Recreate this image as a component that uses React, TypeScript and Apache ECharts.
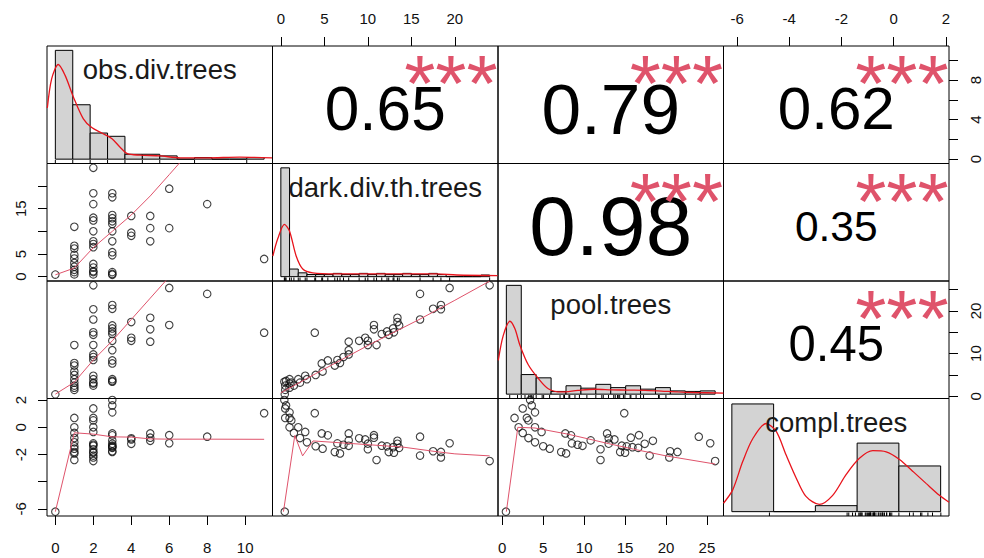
import { useEffect, useRef } from 'react';
import * as echarts from 'echarts';

// ---------- data ----------
const varNames = ['obs.div.trees', 'dark.div.th.trees', 'pool.trees', 'compl.trees'];

const obsDiv = [0, 1, 1, 1, 1, 1, 1, 1, 1, 1, 1, 2, 2, 2, 2, 2, 2, 2, 2, 2, 2, 2, 2, 2, 2, 3, 3, 3, 3, 3, 3, 3, 3, 3, 3, 3, 3, 3, 4, 4, 4, 5, 5, 5, 6, 6, 8, 11];
const darkDiv = [0.45, 0.5, 1, 1.5, 2.2, 3, 4, 4.8, 6.2, 6.8, 11, 0.5, 1, 1.2, 2, 2.8, 6.5, 7.2, 7.8, 10, 12.4, 13, 16, 18.4, 24, 0.4, 0.6, 1, 4.7, 5.4, 7.8, 10, 11.6, 12.2, 12.9, 13.6, 17.5, 18.4, 9, 9.7, 13.4, 7.8, 10.7, 13.4, 10.7, 19.4, 16, 3.9];
const poolTrees = [0.45, 1.5, 2, 2.5, 3.2, 4, 5, 5.8, 7.2, 7.8, 12, 2.5, 3, 3.2, 4, 4.8, 8.5, 9.2, 9.8, 12, 14.4, 15, 18, 20.4, 26, 3.4, 3.6, 4, 7.7, 8.4, 10.8, 13, 14.6, 15.2, 15.9, 16.6, 20.5, 21.4, 13, 13.7, 17.4, 12.8, 15.7, 18.4, 16.7, 25.4, 24, 14.9];
const complTrees = [-6.2, 0.69, 0, -0.41, -0.79, -1.1, -1.39, -1.57, -1.82, -1.92, -2.4, 1.39, 0.69, 0.51, 0, -0.34, -1.18, -1.28, -1.36, -1.61, -1.82, -1.87, -2.08, -2.22, -2.48, 2.01, 1.61, 1.1, -0.45, -0.59, -0.96, -1.2, -1.35, -1.4, -1.46, -1.51, -1.76, -1.81, -0.81, -0.89, -1.21, -0.45, -0.76, -0.99, -0.58, -1.17, -0.69, 1.04];

// axis ranges of each variable (pairs scale)
const obsRange = [-0.44, 11.44];
const darkRange = [-0.96, 24.96];
const poolRange = [-0.52, 27.02];
const complRange = [-6.52, 2.12];

// tick values and shown labels
const obsTicks = [0, 2, 4, 6, 8, 10];
const darkTicks = [0, 5, 10, 15, 20];
const poolTicks = [0, 5, 10, 15, 20, 25];
const complTicks = [-6, -4, -2, 0, 2];
const obsRightLabels = [0, 4, 8];
const darkLeftLabels = [0, 5, 15];
const poolRightLabels = [0, 10, 20];
const complLeftLabels = [-6, -2, 0, 2];

// correlations (upper panels)
const corrPairs = [[0, 1], [0, 2], [0, 3], [1, 2], [1, 3], [2, 3]];
const corrValues = [0.65, 0.79, 0.62, 0.98, 0.35, 0.45];
const corrText = ['0.65', '0.79', '0.62', '0.98', '0.35', '0.45'];
const corrStars = ['***', '***', '***', '***', '***', '***'];

// histograms on the diagonal (own scales); heights relative to tallest bar
const obsHistRange = [-0.48, 12.48];
const obsHistBreaks = [0, 1, 2, 3, 4, 5, 6, 7, 8, 9, 10, 11, 12];
const obsHistHeights = [1.0, 0.5, 0.24, 0.21, 0.045, 0.045, 0.03, 0, 0.015, 0, 0, 0.015];
const darkHistRange = [-0.96, 24.96];
const darkHistBreaks = [0, 1, 2, 3, 4, 5, 6, 7, 8, 9, 10, 11, 12, 13, 14, 15, 16, 17, 18, 19, 20, 21, 22, 23, 24];
const darkHistHeights = [1.0, 0.07, 0.035, 0.02, 0.02, 0.02, 0.03, 0.02, 0.02, 0.03, 0.02, 0.03, 0.02, 0.02, 0.03, 0.02, 0.02, 0.03, 0.02, 0, 0, 0, 0, 0.015];
const poolHistRange = [-1.12, 29.12];
const poolHistBreaks = [0, 2, 4, 6, 8, 10, 12, 14, 16, 18, 20, 22, 24, 26, 28];
const poolHistHeights = [1.0, 0.18, 0.15, 0.025, 0.077, 0.055, 0.09, 0.06, 0.077, 0.046, 0.06, 0.03, 0.025, 0.03];
const complHistRange = [-8.4, 2.4];
const complHistBreaks = [-8, -6, -4, -2, 0, 2];
const complHistHeights = [0.99, 0, 0.055, 0.63, 0.42];

// density curves (own scales)
const obsDensX = [-0.46, -0.21, 0.17, 0.56, 1.04, 1.61, 2.09, 2.67, 3.24, 3.72, 4.14, 4.87, 6.02, 7.17, 8.7, 10.6, 12.45];
const obsDensY = [0.47, 0.74, 0.87, 0.77, 0.57, 0.37, 0.29, 0.24, 0.19, 0.11, 0.05, 0.037, 0.03, 0.012, 0.012, 0.018, 0.012];
const darkDensX = [-0.92, -0.35, 0.41, 0.99, 1.76, 2.52, 3.67, 6.35, 10.2, 14.0, 17.9, 20.2, 24.9];
const darkDensY = [0.19, 0.35, 0.48, 0.42, 0.19, 0.07, 0.034, 0.025, 0.025, 0.025, 0.025, 0.015, 0.01];
const poolDensX = [-1.08, -0.41, 0.48, 1.15, 1.82, 2.94, 4.28, 5.62, 7.4, 9.6, 11.9, 14.1, 16.3, 18.6, 20.8, 23.0, 25.3, 29.1];
const poolDensY = [0.31, 0.54, 0.67, 0.6, 0.45, 0.27, 0.145, 0.05, 0.02, 0.035, 0.045, 0.04, 0.037, 0.035, 0.028, 0.02, 0.015, 0.01];
const complDensX = [-8.4, -7.96, -7.48, -7.0, -6.36, -5.88, -5.4, -4.92, -4.45, -3.81, -3.17, -2.53, -1.89, -1.25, -0.61, 0.03, 0.67, 1.3, 1.94, 2.4];
const complDensY = [0.077, 0.2, 0.46, 0.67, 0.81, 0.74, 0.52, 0.31, 0.14, 0.067, 0.15, 0.34, 0.49, 0.56, 0.55, 0.48, 0.37, 0.26, 0.15, 0.086];

// smoothing lines in the lower panels
const smoothDarkObsX = [0, 1, 2, 3, 4, 5, 6, 8, 11];
const smoothDarkObsY = [0.4, 1.9, 6.4, 10, 13.6, 17.8, 22.5, 32, 45];
const smoothPoolObsX = [0, 1, 2, 3, 4, 5, 6, 8, 11];
const smoothPoolObsY = [0.5, 3.3, 8.5, 13, 18, 23, 28, 38, 52];
const smoothComplObsX = [0, 1, 2, 3, 4, 5, 6, 8, 11];
const smoothComplObsY = [-6.2, -0.4, -0.5, -0.7, -0.72, -0.85, -0.87, -0.87, -0.88];
const smoothPoolDarkX = [0, 4, 10, 16, 20, 24];
const smoothPoolDarkY = [0.8, 5.3, 11.9, 18.1, 22.5, 27];
const smoothComplDarkX = [0.3, 1.6, 2.5, 3.7, 8.3, 14, 18, 20, 24];
const smoothComplDarkY = [-6.2, -0.6, -2.1, -1.0, -1.2, -1.45, -1.8, -1.95, -2.1];
const smoothComplPoolX = [0.5, 1.9, 4, 8, 13, 16, 20, 26];
const smoothComplPoolY = [-6.2, 0, -0.05, -0.5, -1.2, -1.6, -2.1, -2.7];

// ---------- layout / style ----------
const L = 47;
const T = 46;
const PW = 225.5;
const PH = 117.5;
const FONT = '"Liberation Sans", Arial, Helvetica, sans-serif';
const STAR_FONT = 80;
const CORR_FONT = 85;
const LOW_COL = '#DF536B';
const DENS_COL = '#E8141C';

const zip = (a: number[], b: number[]) => a.map((v, k) => [v, b[k]]);

function buildOption() {
  const vars = [obsDiv, darkDiv, poolTrees, complTrees];
  const ranges = [obsRange, darkRange, poolRange, complRange];
  const ticks = [obsTicks, darkTicks, poolTicks, complTicks];
  const histRanges = [obsHistRange, darkHistRange, poolHistRange, complHistRange];
  const histBreaks = [obsHistBreaks, darkHistBreaks, poolHistBreaks, complHistBreaks];
  const histHeights = [obsHistHeights, darkHistHeights, poolHistHeights, complHistHeights];
  const densX = [obsDensX, darkDensX, poolDensX, complDensX];
  const densY = [obsDensY, darkDensY, poolDensY, complDensY];
  const smooth: Record<string, number[][]> = {
    '10': zip(smoothDarkObsX, smoothDarkObsY),
    '20': zip(smoothPoolObsX, smoothPoolObsY),
    '30': zip(smoothComplObsX, smoothComplObsY),
    '21': zip(smoothPoolDarkX, smoothPoolDarkY),
    '31': zip(smoothComplDarkX, smoothComplDarkY),
    '32': zip(smoothComplPoolX, smoothComplPoolY),
  };
  const leftLabels: Record<number, number[]> = { 1: darkLeftLabels, 3: complLeftLabels };
  const rightLabels: Record<number, number[]> = { 0: obsRightLabels, 2: poolRightLabels };

  const grids: any[] = [];
  const xAxes: any[] = [];
  const yAxes: any[] = [];
  const series: any[] = [];
  const graphics: any[] = [];

  const hiddenAxis = (gi: number, r: number[]) => ({
    gridIndex: gi, type: 'value', min: r[0], max: r[1], show: false,
    axisLine: { show: false, onZero: false }, splitLine: { show: false },
  });
  const labelStyle = { fontSize: 15, fontFamily: FONT, color: '#111' };

  for (let i = 0; i < 4; i++) {
    for (let j = 0; j < 4; j++) {
      const gi = i * 4 + j;
      const left = L + j * PW;
      const top = T + i * PH;
      grids.push({
        left, top, width: PW, height: PH, show: true,
        borderColor: '#000', borderWidth: 1, backgroundColor: 'rgba(0,0,0,0)',
      });
      const xr = i === j ? histRanges[i] : ranges[j];
      const yr = i === j ? [-0.04, 1.04] : ranges[i];

      // x axis
      const xTop = i === 0 && j % 2 === 1;
      const xBottom = i === 3 && j % 2 === 0;
      if (i !== j && (xTop || xBottom)) {
        xAxes.push({
          gridIndex: gi, type: 'value', min: xr[0], max: xr[1],
          position: xTop ? 'top' : 'bottom',
          axisLine: { show: false, onZero: false }, splitLine: { show: false },
          axisTick: { show: true, length: 9, customValues: ticks[j], lineStyle: { color: '#000' } },
          axisLabel: { show: true, customValues: ticks[j], margin: xTop ? 20 : 24, ...labelStyle },
        });
      } else {
        xAxes.push(hiddenAxis(gi, xr));
      }
      // y axis
      const yLeft = j === 0 && i % 2 === 1;
      const yRight = j === 3 && i % 2 === 0;
      if (i !== j && (yLeft || yRight)) {
        yAxes.push({
          gridIndex: gi, type: 'value', min: yr[0], max: yr[1],
          position: yLeft ? 'left' : 'right',
          axisLine: { show: false, onZero: false }, splitLine: { show: false },
          axisTick: { show: true, length: 9, customValues: ticks[i], lineStyle: { color: '#000' } },
          axisLabel: {
            show: true, rotate: 90, margin: 19,
            customValues: yLeft ? leftLabels[i] : rightLabels[i], ...labelStyle,
          },
        });
      } else {
        yAxes.push(hiddenAxis(gi, yr));
      }

      if (i === j) {
        const br = histBreaks[i];
        const hData = histHeights[i].map((h, k) => [br[k], br[k + 1], h]);
        series.push({
          type: 'custom', xAxisIndex: gi, yAxisIndex: gi, clip: true,
          encode: { x: [0, 1], y: 2 },
          data: hData,
          renderItem: (_p: any, api: any) => {
            const p0 = api.coord([api.value(0), api.value(2)]);
            const p1 = api.coord([api.value(1), 0]);
            return {
              type: 'rect',
              shape: { x: p0[0], y: p0[1], width: p1[0] - p0[0], height: p1[1] - p0[1] },
              style: { fill: '#D3D3D3', stroke: '#000', lineWidth: 1 },
            };
          },
        });
        series.push({
          type: 'line', xAxisIndex: gi, yAxisIndex: gi, data: zip(densX[i], densY[i]),
          showSymbol: false, symbol: 'none', smooth: 0.3, clip: true,
          lineStyle: { color: DENS_COL, width: 1.3 },
        });
        const uniq = Array.from(new Set(vars[i]));
        series.push({
          type: 'custom', xAxisIndex: gi, yAxisIndex: gi, clip: true,
          data: uniq.map((v) => [v, -0.04]),
          renderItem: (_p: any, api: any) => {
            const p = api.coord([api.value(0), api.value(1)]);
            return {
              type: 'line',
              shape: { x1: p[0], y1: p[1], x2: p[0], y2: p[1] - 0.03 * PH },
              style: { stroke: '#000', lineWidth: 1 },
            };
          },
        });
        graphics.push({
          type: 'text', x: left + PW / 2, y: top + 0.2 * PH, z: 100,
          style: {
            text: varNames[i], fontSize: 27.5, fontFamily: FONT, fill: '#1a1a1a',
            align: 'center', verticalAlign: 'middle',
          },
        });
      } else if (i > j) {
        series.push({
          type: 'scatter', xAxisIndex: gi, yAxisIndex: gi,
          data: zip(vars[j], vars[i]), symbol: 'circle', symbolSize: 7.5,
          itemStyle: { color: 'rgba(0,0,0,0)', borderColor: '#111', borderWidth: 1.1 },
        });
        series.push({
          type: 'line', xAxisIndex: gi, yAxisIndex: gi, data: smooth[`${i}${j}`],
          showSymbol: false, symbol: 'none', clip: true,
          lineStyle: { color: LOW_COL, width: 1 },
        });
      } else {
        const k = corrPairs.findIndex((p) => p[0] === i && p[1] === j);
        const r = corrValues[k];
        graphics.push({
          type: 'text', x: left + PW / 2, y: top + PH / 2 + 4, z: 100,
          style: {
            text: corrText[k], fontSize: CORR_FONT * (Math.abs(r) + 0.3) / 1.3,
            fontFamily: FONT, fill: '#000', align: 'center', verticalAlign: 'middle',
          },
        });
        graphics.push({
          type: 'text', x: left + 0.8 * PW - 2, y: top + 0.2 * PH + 14, z: 100,
          style: {
            text: corrStars[k], fontSize: STAR_FONT, fontFamily: FONT, fill: LOW_COL,
            align: 'center', verticalAlign: 'middle',
          },
        });
      }
    }
  }

  return {
    animation: false,
    backgroundColor: '#fff',
    grid: grids,
    xAxis: xAxes,
    yAxis: yAxes,
    series,
    graphic: graphics,
  };
}

export default function App() {
  const ref = useRef<HTMLDivElement>(null);
  useEffect(() => {
    if (!ref.current) return;
    const chart = echarts.init(ref.current, undefined, { renderer: 'svg' });
    chart.setOption(buildOption() as any);
    return () => chart.dispose();
  }, []);
  return <div ref={ref} style={{ width: 984, height: 558, position: 'absolute', left: 0, top: 0 }} />;
}
